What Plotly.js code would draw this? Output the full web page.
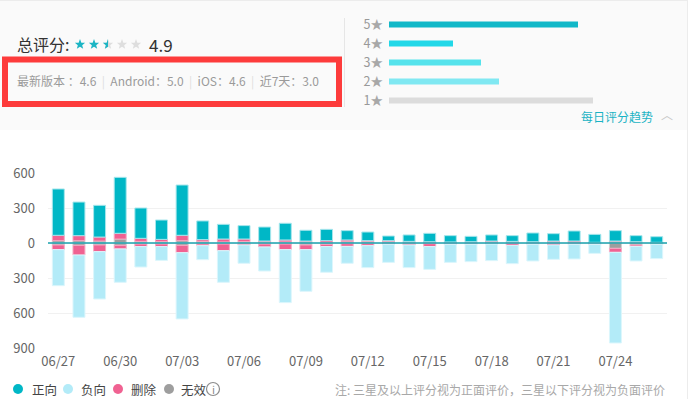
<!DOCTYPE html>
<html><head><meta charset="utf-8">
<script src="https://cdn.plot.ly/plotly-3.0.1.min.js"></script>
<style>html,body{margin:0;padding:0;background:#fff;} #chart{width:688px;height:399px;}</style>
</head><body><div id="chart"></div>
<script>
// ---- data ----
const dates = ['06/27','06/28','06/29','06/30','07/01','07/02','07/03','07/04','07/05','07/06',
  '07/07','07/08','07/09','07/10','07/11','07/12','07/13','07/14','07/15','07/16',
  '07/17','07/18','07/19','07/20','07/21','07/22','07/23','07/24','07/25','07/26'];
const positive   = [397,288,272,480,260,166,431,160,126,115,120,143,92,97,80,74,40,55,72,54,46,52,49,75,63,86,68,89,52,48];
const deletedPos = [46,43,34,49,26,19,46,15,25,22,8,17,0,14,15,6,6,5,5,3,5,6,5,5,6,11,3,0,0,0];
const invalidPos = [20,20,17,34,14,12,20,14,9,12,9,9,17,6,11,14,14,9,6,6,6,11,9,6,11,6,3,17,11,6];
const invalidNeg = [-17,-20,-17,-20,-9,-9,-20,-9,-9,-6,-9,-9,-17,-11,-6,-6,-6,-6,-6,-3,-3,-3,-3,-3,-3,-3,-3,-46,-17,-11];
const deletedNeg = [-40,-83,-57,-31,-22,-22,-63,-14,-57,-11,-25,-48,-40,-20,-23,-17,-5,-11,-25,-8,-8,-6,-17,-8,-14,-8,-8,-34,-12,0];
const negative   = [-309,-534,-406,-286,-175,-118,-568,-120,-271,-157,-206,-454,-357,-220,-145,-188,-155,-194,-195,-155,-149,-142,-157,-143,-123,-126,-78,-777,-125,-123];
const yTickVals  = [-900,-600,-300,0,300,600];
const yTickText  = ['900','600','300','0','300','600'];
const xTickVals  = dates.filter((d,i)=>i%3===0);
const starLevels = ['1','2','3','4','5'];
const starCounts = [204,110,92,64,189];
const starColors = ['#dcdcdc','#80e8f2','#55e3ec','#22d8e8','#12b8c8'];

// ---- helpers (pixel -> paper) ----
const W=688,H=399;
const X = px => px/W, Y = py => 1 - py/H;
const FONT = '"Noto Sans CJK SC", "Noto Sans", sans-serif';

const C = {pos:'#00b7c6', neg:'#b3ebf8', del:'#f06292', inv:'#9e9e9e'};
function barTrace(y, color, line, name){
  return {type:'bar', x:dates, y:y, name:name, width:0.58, showlegend:false,
    marker:{color:color, line:{color:line, width:1}}, hoverinfo:'x+y'};
}
const traces = [
  barTrace(invalidPos, C.inv, '#cfcfcf', '无效'),
  barTrace(invalidNeg, C.inv, '#cfcfcf', '无效'),
  barTrace(deletedPos, C.del, '#f7a8c2', '删除'),
  barTrace(deletedNeg, C.del, '#f7a8c2', '删除'),
  barTrace(positive, C.pos, '#a6e6ec', '正向'),
  barTrace(negative, C.neg, '#dcf6fc', '负向'),
  {type:'bar', orientation:'h', y:starLevels, x:starCounts, width:0.32, xaxis:'x2', yaxis:'y2',
   marker:{color:starColors}, showlegend:false, hoverinfo:'x'}
];

// stars
function starPath(cx, cy, R, r, half){
  const pts=[];
  for(let k=0;k<10;k++){
    const a=(-90+36*k)*Math.PI/180, rad=k%2?r:R;
    pts.push([cx+rad*Math.cos(a), cy+rad*Math.sin(a)]);
  }
  let use = pts;
  if(half){ use=[pts[0],pts[9],pts[8],pts[7],pts[6],pts[5]]; }
  return 'M'+use.map(p=>X(p[0]).toFixed(5)+','+Y(p[1]).toFixed(5)).join('L')+'Z';
}
const shapes = [
  {type:'rect', xref:'paper', yref:'paper', x0:0, x1:1, y0:Y(130), y1:1, fillcolor:'#fafafa', line:{width:0}, layer:'below'},
  {type:'line', xref:'paper', yref:'paper', x0:0, x1:1, y0:Y(0.5), y1:Y(0.5), line:{color:'#ececec', width:1}},
  {type:'line', xref:'paper', yref:'paper', x0:X(687.5), x1:X(687.5), y0:0, y1:1, line:{color:'#ececec', width:1}},
  {type:'line', xref:'paper', yref:'paper', x0:X(344.5), x1:X(344.5), y0:Y(18), y1:Y(107), line:{color:'#e6e6e6', width:1}},
  {type:'rect', xref:'paper', yref:'paper', x0:X(5), x1:X(339), y0:Y(104), y1:Y(59.5), line:{color:'#fd3b3b', width:6}, fillcolor:'rgba(0,0,0,0)'},
  {type:'line', xref:'x domain', yref:'y', x0:0, x1:1, y0:0, y1:0, line:{color:'#1aa2ae', width:1.5}, layer:'above'},
];
const starCx=[80,94,108,122,136];
starCx.forEach((cx,i)=>{
  const col = i<2 ? '#1bb5c4' : '#dedede';
  shapes.push({type:'path', xref:'paper', yref:'paper', path:starPath(cx,44.5,5.4,2.3,false), fillcolor:col, line:{width:0}});
  if(i===2) shapes.push({type:'path', xref:'paper', yref:'paper', path:starPath(cx,44.5,5.4,2.3,true), fillcolor:'#1bb5c4', line:{width:0}});
});
// legend dots
const legend = [['正向',C.pos,18,30],['负向',C.neg,68,79],['删除',C.del,118,129],['无效',C.inv,169,179]];
legend.forEach(l=>{
  shapes.push({type:'circle', xref:'paper', yref:'paper', x0:X(l[2]-5), x1:X(l[2]+5), y0:Y(394), y1:Y(384), fillcolor:l[1], line:{width:0}});
});
shapes.push({type:'circle', xref:'paper', yref:'paper', x0:X(206.5), x1:X(219.5), y0:Y(395.5), y1:Y(382.5), fillcolor:'rgba(0,0,0,0)', line:{color:'#8c8c8c', width:1.2}});

function ann(text, x, y, size, color, anchor){
  return {xref:'paper', yref:'paper', x:X(x), y:Y(y), text:text, showarrow:false,
    xanchor:anchor||'left', yanchor:'middle', font:{family:FONT, size:size, color:color}};
}
const sep = '<span style="color:#dddddd">  |  </span>';
const annotations = [
  ann('总评分:', 15, 44, 16, '#333'),
  ann('4.9', 147, 44, 17, '#333'),
  ann('最新版本 ：4.6'+sep+'Android：5.0'+sep+'iOS：4.6'+sep+'近7天：3.0', 15, 81, 12, '#9a9a9a'),
  ann('每日评分趋势', 579, 116, 12, '#1ab3c4'),
  ann('︿', 667, 114, 12, '#c8c8c8', 'center'),
  ann('i', 213, 389, 11, '#8c8c8c', 'center'),
  ann('注: 三星及以上评分视为正面评价，三星以下评分视为负面评价', 667, 389, 12, '#a8a8a8', 'right'),
];
legend.forEach(l=>annotations.push(ann(l[0], l[3], 389, 12.5, '#444')));

const layout = {
  width:W, height:H, margin:{l:0,r:0,t:0,b:0},
  paper_bgcolor:'#ffffff', plot_bgcolor:'rgba(0,0,0,0)',
  barmode:'relative', showlegend:false,
  font:{family:FONT, color:'#666'},
  xaxis:{type:'category', domain:[X(48),X(667)], tickvals:xTickVals, ticktext:xTickVals,
    showgrid:false, zeroline:false, showline:false, ticks:'', ticklabelstandoff:4,
    tickfont:{family:FONT, size:13, color:'#666'}, fixedrange:true},
  yaxis:{domain:[Y(348),Y(173)], range:[-900,600], tickvals:yTickVals, ticktext:yTickText,
    showgrid:true, gridcolor:'#f1f1f1', gridwidth:1, zeroline:false, showline:false, ticks:'',
    ticklabelstandoff:12, tickfont:{family:FONT, size:13, color:'#666'}, fixedrange:true},
  xaxis2:{domain:[X(389),X(639)], range:[0,250], anchor:'y2', visible:false, fixedrange:true},
  yaxis2:{domain:[Y(110),Y(15)], type:'category', anchor:'x2', tickvals:starLevels,
    ticktext:starLevels.map(s=>s+'<span style="color:#a8a8a8">★</span>'),
    showgrid:false, zeroline:false, showline:false, ticks:'', ticklabelstandoff:5,
    tickfont:{family:FONT, size:12.5, color:'#999'}, fixedrange:true},
  shapes:shapes, annotations:annotations
};
Plotly.newPlot('chart', traces, layout, {displayModeBar:false, staticPlot:true});
</script></body></html>
